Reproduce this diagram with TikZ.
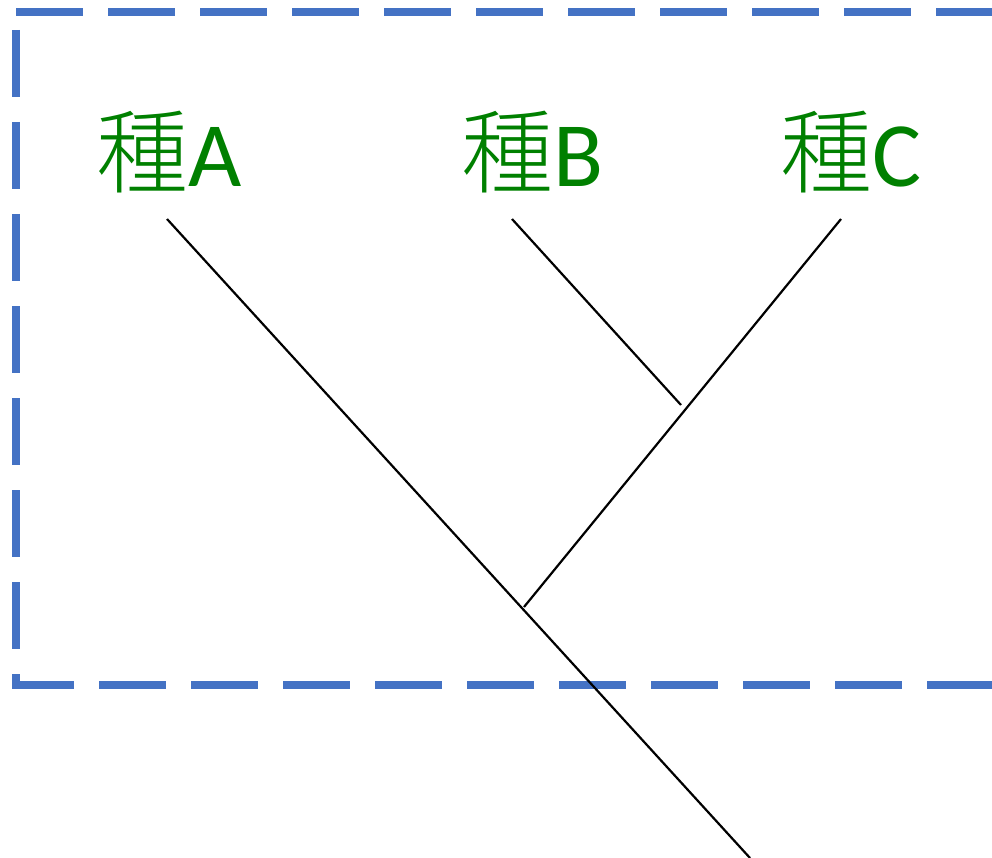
\documentclass[tikz,border=0pt]{standalone}
\usepackage{fontspec}
\setmainfont{Carlito}
\newfontfamily\jpfont{Noto Sans CJK JP Light}
\definecolor{framebl}{HTML}{4472C4}
\definecolor{labelgr}{HTML}{008000}
\begin{document}
\begin{tikzpicture}[x=1pt,y=-1pt,
  frameedge/.style={draw=framebl,line width=8pt,dash pattern=on 67pt off 25pt},
  branch/.style={draw=black,line width=2.2pt},
  taxon/.style={inner sep=0pt,anchor=base west,text=labelgr,font=\fontsize{92}{92}\selectfont}]
\useasboundingbox (0,0) rectangle (992,858);

% dashed frame, right side runs off the page
\draw[frameedge] (16,12) -- (1000,12);
\draw[frameedge,dash phase=74pt] (16,12) -- (16,689);
\draw[frameedge,dash phase=5pt] (12,685) -- (1000,685);

% taxon labels
\node[taxon] (tA) at (96,187) {{\jpfont 種}A};
\node[taxon] (tB) at (461,187) {{\jpfont 種}B};
\node[taxon] (tC) at (780,187) {{\jpfont 種}C};

% branch ends
\coordinate (a) at (167,219);
\coordinate (b) at (512,219);
\coordinate (c) at (841,219);
\coordinate (nBC) at (681,405);
\coordinate (nABC) at (524,607);
\coordinate (root) at (750,858);

% tree
\draw[branch] (a) -- (root);
\draw[branch] (b) -- (nBC);
\draw[branch] (c) -- (nABC);
\end{tikzpicture}
\end{document}
